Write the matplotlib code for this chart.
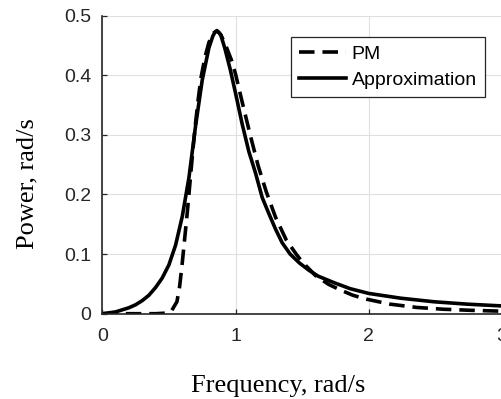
import matplotlib
matplotlib.use("Agg")
import matplotlib.pyplot as plt

# PM spectrum
pm_w = [0.00, 0.20, 0.40, 0.48, 0.52, 0.56, 0.58, 0.60, 0.62, 0.64, 0.66, 0.68,
        0.70, 0.72, 0.74, 0.77, 0.80, 0.83, 0.86, 0.89, 0.93, 0.97, 1.00, 1.05,
        1.11, 1.17, 1.23, 1.30, 1.38, 1.455, 1.50, 1.60, 1.70, 1.785, 1.88, 1.97,
        2.16, 2.36, 2.56, 2.76, 3.00]
pm_s = [0.000, 0.000, 0.000, 0.001, 0.005, 0.020, 0.045, 0.085, 0.130, 0.175, 0.225, 0.275,
        0.320, 0.360, 0.395, 0.430, 0.455, 0.470, 0.475, 0.468, 0.448, 0.425, 0.402, 0.355,
        0.300, 0.248, 0.205, 0.162, 0.124, 0.100, 0.087, 0.064, 0.049, 0.040, 0.031, 0.025,
        0.016, 0.0105, 0.0075, 0.0057, 0.0042]

# approximation
ap_w = [0.00, 0.10, 0.20, 0.25, 0.30, 0.35, 0.40, 0.45, 0.50, 0.55, 0.60, 0.65,
        0.70, 0.75, 0.80, 0.83, 0.845, 0.86, 0.875, 0.89, 0.92, 0.96, 1.00, 1.05,
        1.10, 1.15, 1.20, 1.25, 1.30, 1.35, 1.41, 1.48, 1.55, 1.62, 1.74, 1.86,
        2.00, 2.24, 2.49, 2.74, 3.00]
ap_s = [0.000, 0.003, 0.010, 0.015, 0.022, 0.031, 0.044, 0.060, 0.082, 0.115, 0.163, 0.228,
        0.315, 0.392, 0.446, 0.466, 0.472, 0.474, 0.472, 0.467, 0.445, 0.410, 0.370, 0.318,
        0.272, 0.236, 0.195, 0.168, 0.142, 0.119, 0.100, 0.085, 0.073, 0.063, 0.052, 0.042,
        0.034, 0.026, 0.020, 0.016, 0.013]

sans = ['Liberation Sans', 'DejaVu Sans']
serif = ['Liberation Serif', 'DejaVu Serif']
dark = '#262626'

def draw():
    fig = plt.figure(figsize=(5.02, 3.99), dpi=100)
    ax = fig.add_axes([0.2038, 0.2138, 0.7962, 0.7469])

    ax.plot(pm_w, pm_s, color='black', lw=2.6, ls=(0, (4.3, 2.2)), label='PM')
    ax.plot(ap_w, ap_s, color='black', lw=2.6, label='Approximation')

    ax.set_xlim(0, 3)
    ax.set_ylim(0, 0.5)
    ax.set_xticks([0, 1, 2, 3])
    ax.set_yticks([0, 0.1, 0.2, 0.3, 0.4, 0.5])
    ax.set_yticklabels(['0', '0.1', '0.2', '0.3', '0.4', '0.5'])
    ax.grid(True, color='#e0e0e0', lw=0.8)
    ax.set_axisbelow(True)

    for s in ['top', 'right']:
        ax.spines[s].set_visible(False)
    for s in ['left', 'bottom']:
        ax.spines[s].set_color(dark)
        ax.spines[s].set_linewidth(1.2)

    ax.tick_params(direction='in', length=3.5, width=0.9, color=dark,
                   labelcolor=dark, labelsize=14)
    ax.tick_params(axis='x', pad=10)
    ax.tick_params(axis='y', pad=8)
    for lab in ax.get_xticklabels() + ax.get_yticklabels():
        lab.set_family(sans)

    ax.set_xlabel('Frequency, rad/s', family=serif, fontsize=19, va='baseline')
    ax.xaxis.set_label_coords(0.44, -0.2644)
    ax.set_ylabel('Power, rad/s', family=serif, fontsize=19, va='baseline')
    ax.yaxis.set_label_coords(-0.1726, 0.435)

    leg = ax.legend(loc='upper right', bbox_to_anchor=(0.9575, 0.9285),
                    borderaxespad=0, fancybox=False, framealpha=1,
                    edgecolor=dark, handlelength=2.42, handletextpad=0.3,
                    labelspacing=0.45, borderpad=0.42,
                    prop={'family': sans, 'size': 14})
    leg.get_frame().set_linewidth(0.9)

    fig.savefig("out.png", dpi=100)

if __name__ == "__main__":
    draw()
